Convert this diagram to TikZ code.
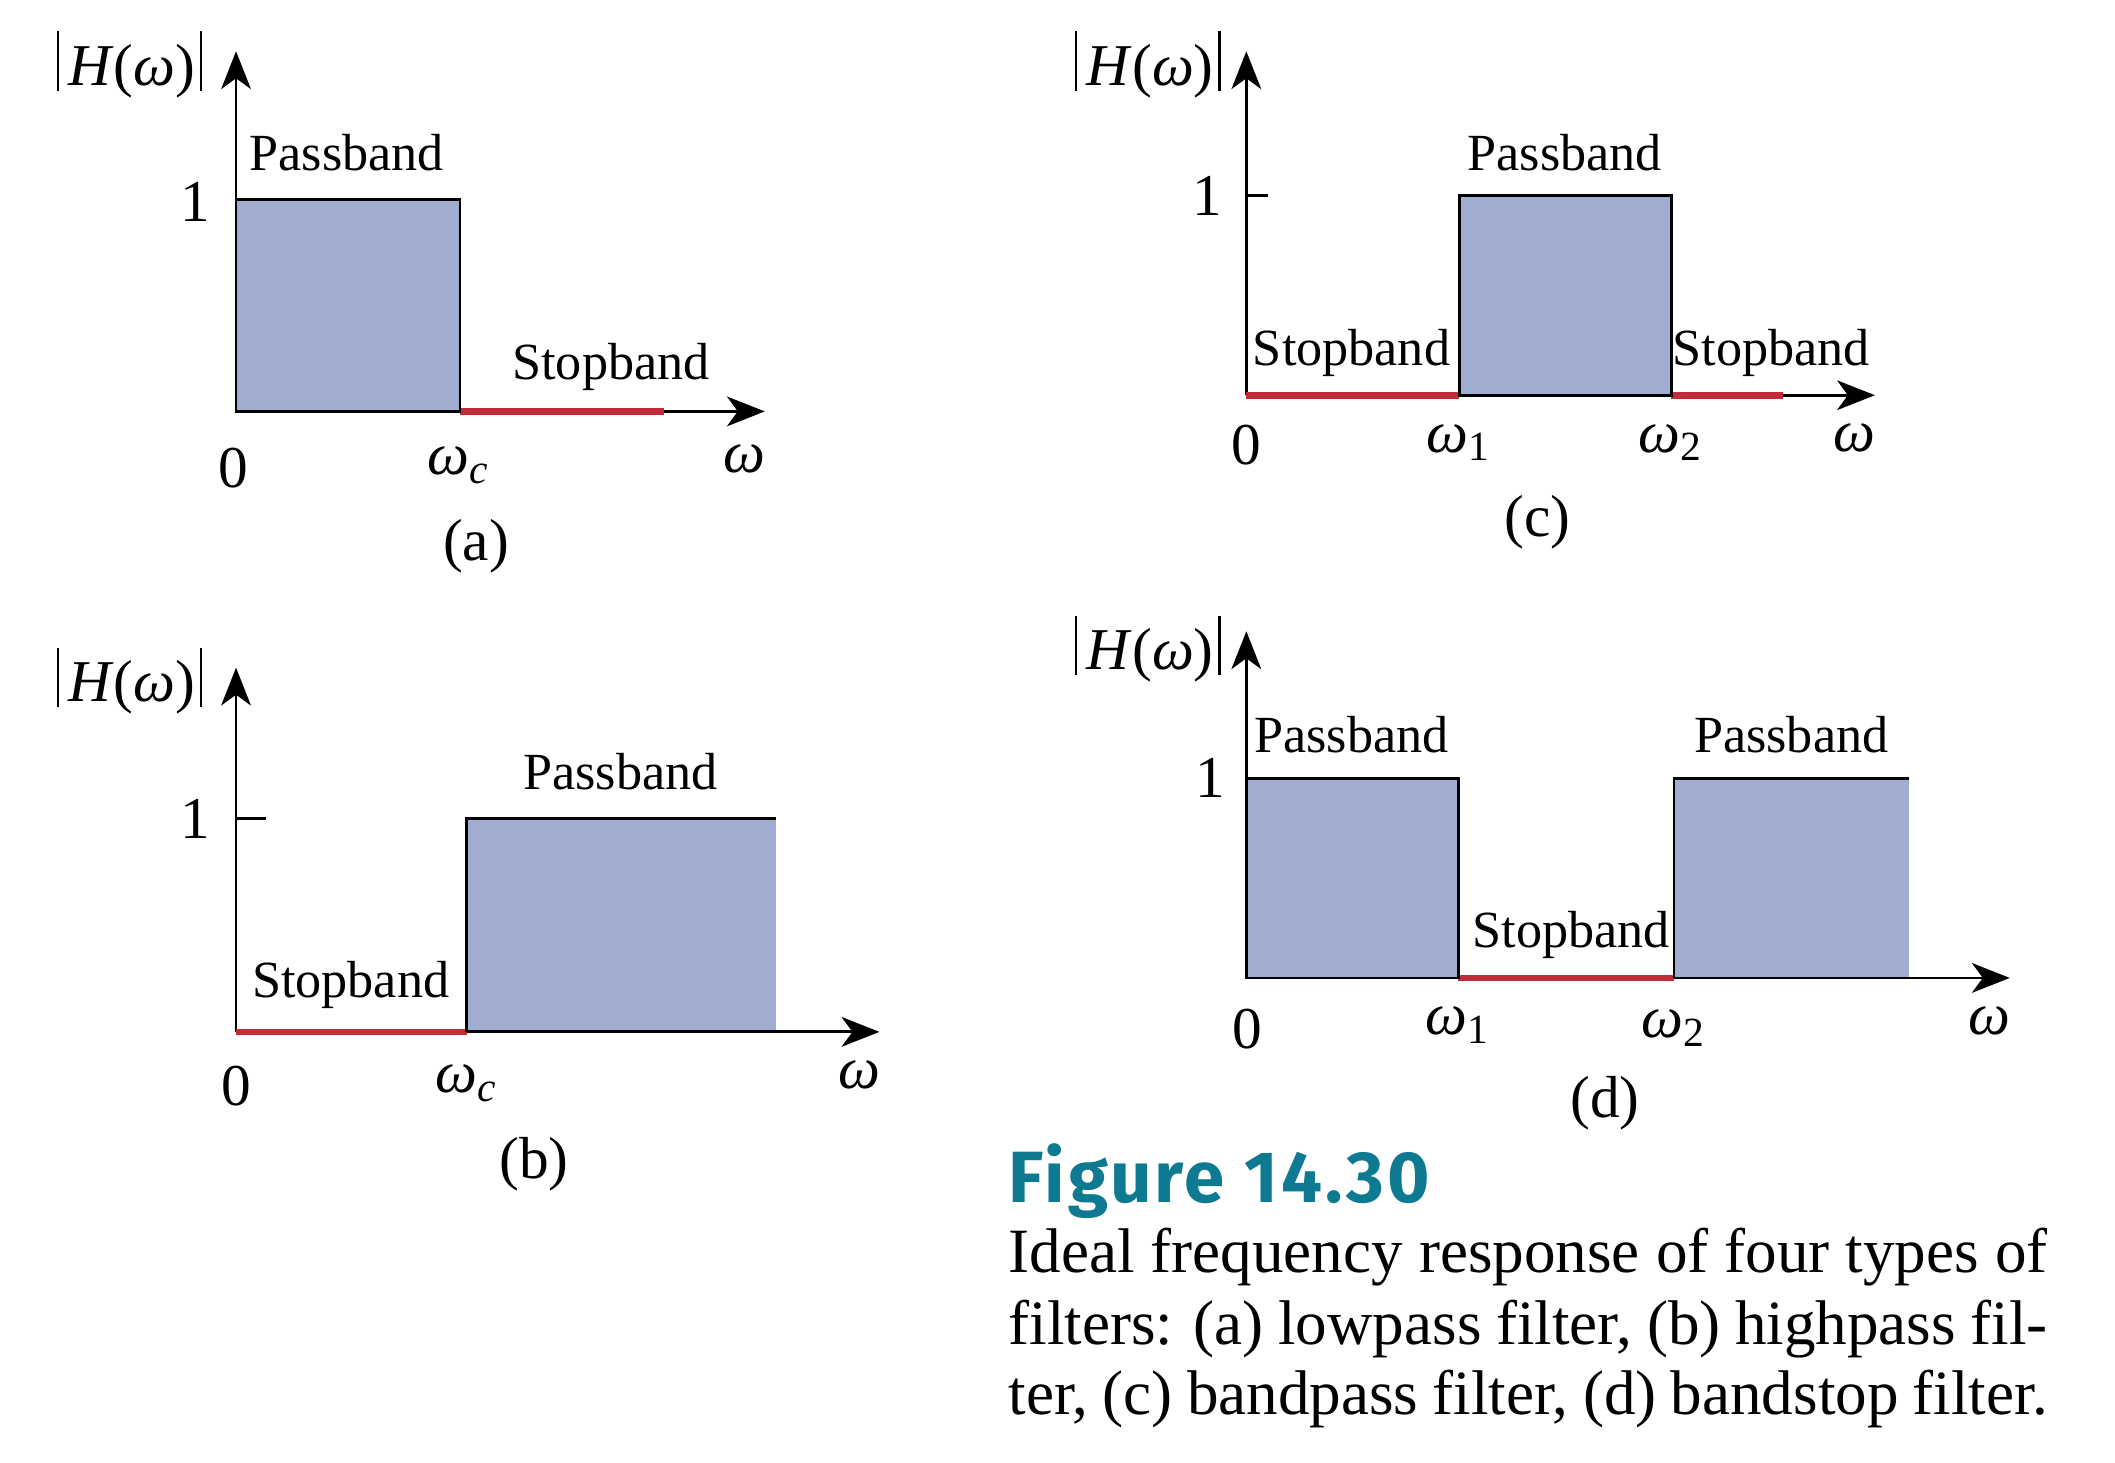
\documentclass[tikz,border=0pt]{standalone}
\usepackage{fontspec}
\setmainfont{Liberation Serif}
\newfontfamily\figfont{Fira Sans}[LetterSpace=4]
\usetikzlibrary{arrows.meta}
\definecolor{bandblue}{RGB}{160,172,208}
\definecolor{stopred}{RGB}{192,44,56}
\definecolor{figteal}{RGB}{14,122,145}
\newcommand{\omg}{\textit{ω}}
\newcommand{\vbar}{\rule[-0.04cm]{0.5pt}{0.44cm}}
\newcommand{\Hw}{\vbar\hspace{2pt}\textit{H}(\omg)\hspace{1pt}\vbar}
\begin{document}
\begin{tikzpicture}[x=0.01cm, y=-0.01cm,
    axis/.style={-{Stealth[length=2.8mm,width=2.2mm,inset=0.8mm]}, line width=0.6pt},
    band/.style={fill=bandblue},
    edge/.style={line width=0.6pt},
    stopline/.style={stopred, line width=1.4pt},
    lbl/.style={font=\fontsize{11}{13}\selectfont, inner sep=0pt},
    tck/.style={font=\fontsize{12.5}{14}\selectfont, inner sep=0pt},
    captext/.style={font=\fontsize{13.3}{15}\selectfont, anchor=west, inner sep=0pt}]
\useasboundingbox (0,0) rectangle (1568,1084);

% (a) lowpass
\coordinate (Oa) at (175,305);
\coordinate (Ya) at (175,38);
\coordinate (Xa) at (567,305);
\coordinate (Ca) at (341,148);
\coordinate (Ra) at (492,305);
\fill[band] (Oa) rectangle (Ca);
\draw[axis] (Oa) -- (Ya);
\draw[axis] (Oa) -- (Xa);
\draw[stopline] (Oa -| Ca) -- (Ra);
\draw[edge] (Oa) rectangle (Ca);
\node[tck] (Ha) at (96,48) {\Hw};
\node[tck] (onea) at (145,150) {1};
\node[lbl] (passa) at (257,113) {Passband};
\node[lbl] (stopa) at (453,272) {Stopband};
\node[tck] (zeroa) at (173,347) {0};
\node[tck] (wca) at (340,345) {\omg\textsubscript{\textit{c}}};
\node[tck] (wa) at (552,340) {\omg};
\node[tck] (capa) at (353,405) {(a)};

% (b) highpass
\coordinate (Ob) at (175,765);
\coordinate (Yb) at (175,495);
\coordinate (Xb) at (652,765);
\coordinate (Cb) at (346,607);
\coordinate (Eb) at (575,765);
\fill[band] (Cb) rectangle (Eb);
\draw[axis] (Ob) -- (Yb);
\draw[axis] (Ob) -- (Xb);
\draw[edge] (Ob |- Cb) -- ++(22,0);
\draw[stopline] (Ob) -- (Cb |- Ob);
\draw[edge] (Cb |- Ob) -- (Cb) -- (Eb |- Cb);
\node[tck] (Hb) at (96,505) {\Hw};
\node[tck] (oneb) at (145,607) {1};
\node[lbl] (passb) at (460,572) {Passband};
\node[lbl] (stopb) at (260,730) {Stopband};
\node[tck] (zerob) at (175,805) {0};
\node[tck] (wcb) at (346,803) {\omg\textsubscript{\textit{c}}};
\node[tck] (wb) at (637,797) {\omg};
\node[tck] (capb) at (396,863) {(b)};

% (c) bandpass
\coordinate (Oc) at (924,293);
\coordinate (Yc) at (924,38);
\coordinate (Xc) at (1390,293);
\coordinate (Lc) at (1082,145);
\coordinate (Rc) at (1239,293);
\coordinate (Sc) at (1322,293);
\fill[band] (Lc) rectangle (Rc);
\draw[axis] (Oc) -- (Yc);
\draw[axis] (Oc) -- (Xc);
\draw[edge] (Oc |- Lc) -- ++(16,0);
\draw[stopline] (Oc) -- (Lc |- Oc);
\draw[stopline] (Rc) -- (Sc);
\draw[edge] (Lc) rectangle (Rc);
\node[tck] (Hc) at (851,48) {\Hw};
\node[tck] (onec) at (895,145) {1};
\node[lbl] (passc) at (1160,113) {Passband};
\node[lbl] (stopc1) at (1002,262) {Stopband};
\node[lbl] (stopc2) at (1313,262) {Stopband};
\node[tck] (zeroc) at (924,330) {0};
\node[tck] (w1c) at (1082,328) {\omg\textsubscript{1}};
\node[tck] (w2c) at (1239,328) {\omg\textsubscript{2}};
\node[tck] (wc) at (1375,325) {\omg};
\node[tck] (capc) at (1140,387) {(c)};

% (d) bandstop
\coordinate (Od) at (924,725);
\coordinate (Yd) at (924,468);
\coordinate (Xd) at (1490,725);
\coordinate (Ad) at (1081,577);
\coordinate (Bd) at (1241,577);
\coordinate (Ed) at (1415,725);
\fill[band] (Od) rectangle (Ad);
\fill[band] (Bd) rectangle (Ed);
\draw[axis] (Od) -- (Yd);
\draw[axis] (Od) -- (Xd);
\draw[stopline] (Ad |- Od) -- (Bd |- Od);
\draw[edge] (Od) rectangle (Ad);
\draw[edge] (Bd |- Od) -- (Bd) -- (Ed |- Bd);
\node[tck] (Hd) at (851,481) {\Hw};
\node[tck] (oned) at (897,577) {1};
\node[lbl] (passd1) at (1002,545) {Passband};
\node[lbl] (passd2) at (1328,545) {Passband};
\node[lbl] (stopd) at (1165,693) {Stopband};
\node[tck] (zerod) at (925,763) {0};
\node[tck] (w1d) at (1081,760) {\omg\textsubscript{1}};
\node[tck] (w2d) at (1241,762) {\omg\textsubscript{2}};
\node[tck] (wd) at (1475,757) {\omg};
\node[tck] (capd) at (1190,818) {(d)};

% caption
\node[anchor=west, inner sep=0pt, text=figteal, font=\figfont\bfseries\fontsize{15.3}{17}\selectfont] (fig) at (747,876) {Figure 14.30};
\node[captext] (cap1) at (747,932) {\makebox[7.7cm][s]{Ideal frequency response of four types of}};
\node[captext] (cap2) at (747,985) {\makebox[7.7cm][s]{filters: (a) lowpass filter, (b) highpass fil-}};
\node[captext] (cap3) at (747,1037) {\makebox[7.7cm][s]{ter, (c) bandpass filter, (d) bandstop filter.}};
\end{tikzpicture}
\end{document}
